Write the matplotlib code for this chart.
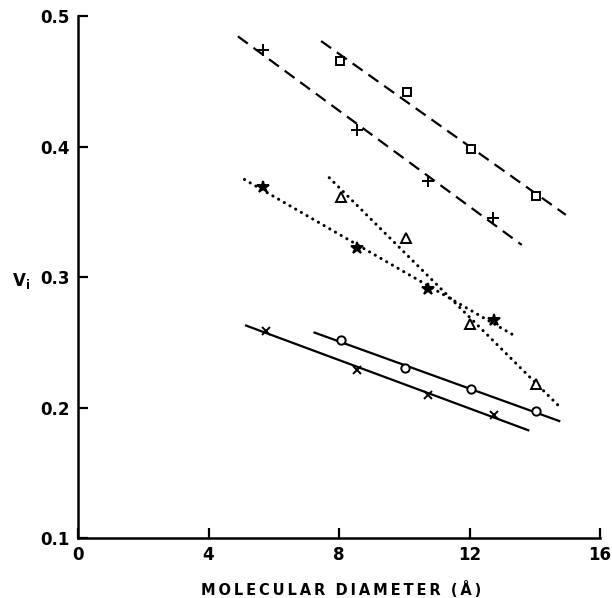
import numpy as np
import matplotlib
matplotlib.use("Agg")
import matplotlib.pyplot as plt

plt.rcParams["font.family"] = ["DejaVu Sans"]
plt.rcParams["font.weight"] = "bold"

# Molecular diameter (A) and V_i
sq_x = [8.03, 10.07, 12.04, 14.05]
sq_y = [0.466, 0.442, 0.398, 0.362]
sq_span = [7.45, 14.95]

plus_x = [5.67, 8.54, 10.74, 12.72]
plus_y = [0.474, 0.413, 0.374, 0.345]
plus_span = [4.9, 13.6]

tri_x = [8.05, 10.05, 12.01, 14.03]
tri_y = [0.361, 0.330, 0.264, 0.218]
tri_span = [7.7, 14.75]

star_x = [5.67, 8.54, 10.74, 12.75]
star_y = [0.369, 0.322, 0.291, 0.267]
star_span = [5.1, 13.4]

circ_x = [8.05, 10.01, 12.03, 14.05]
circ_y = [0.252, 0.230, 0.214, 0.197]
circ_span = [7.25, 14.75]

cross_x = [5.75, 8.54, 10.74, 12.75]
cross_y = [0.259, 0.229, 0.210, 0.194]
cross_span = [5.15, 13.8]

dashed = (0, (5.5, 3.2))
dotted = (0, (0.05, 2.1))

# x, y, line span, marker, line style, marker size, marker face
series = [
    (sq_x, sq_y, sq_span, "s", dashed, 6, "white"),
    (plus_x, plus_y, plus_span, "+", dashed, 9, "white"),
    (tri_x, tri_y, tri_span, "^", dotted, 7, "white"),
    (star_x, star_y, star_span, "*", dotted, 9, "black"),
    (circ_x, circ_y, circ_span, "o", "-", 6, "white"),
    (cross_x, cross_y, cross_span, "x", "-", 6, "white"),
]

fig = plt.figure(figsize=(6.12, 5.98), dpi=100)
ax = fig.add_axes([0.1275, 0.1003, 0.853, 0.8727])

for xs, ys, span, mk, ls, ms, fc in series:
    slope, icpt = np.polyfit(xs, ys, 1)
    lx = np.array(span)
    is_dot = ls is dotted
    ax.plot(lx, slope * lx + icpt, color="black",
            lw=2.2 if is_dot else 1.6, linestyle=ls,
            dash_capstyle="round" if is_dot else "butt")
    ax.plot(xs, ys, linestyle="none", marker=mk, ms=ms, mfc=fc,
            mec="black", mew=1.4, zorder=3)

ax.set_xlim(0, 16)
ax.set_ylim(0.1, 0.5)
ax.set_xticks([0, 4, 8, 12, 16])
ax.set_yticks([0.1, 0.2, 0.3, 0.4, 0.5])
ax.set_xticklabels(["0", "4", "8", "12", "16"])
ax.set_yticklabels(["0.1", "0.2", "0.3", "0.4", "0.5"])
ax.tick_params(direction="in", length=7, width=1.6, labelsize=12, pad=6)
for s in ["top", "right"]:
    ax.spines[s].set_visible(False)
for s in ["left", "bottom"]:
    ax.spines[s].set_linewidth(1.8)

sp = "\u2009"
xlabel = sp.join("MOLECULAR") + "  " + sp.join("DIAMETER") + "  " + sp.join("(Å)")
fig.text(0.557, 0.014, xlabel, fontsize=10.5, fontweight="bold",
         ha="center", va="center")
fig.text(0.035, 0.53, "V$_\\mathregular{i}$", fontsize=12, fontweight="bold",
         ha="center", va="center")

fig.savefig("out.png", dpi=100)
